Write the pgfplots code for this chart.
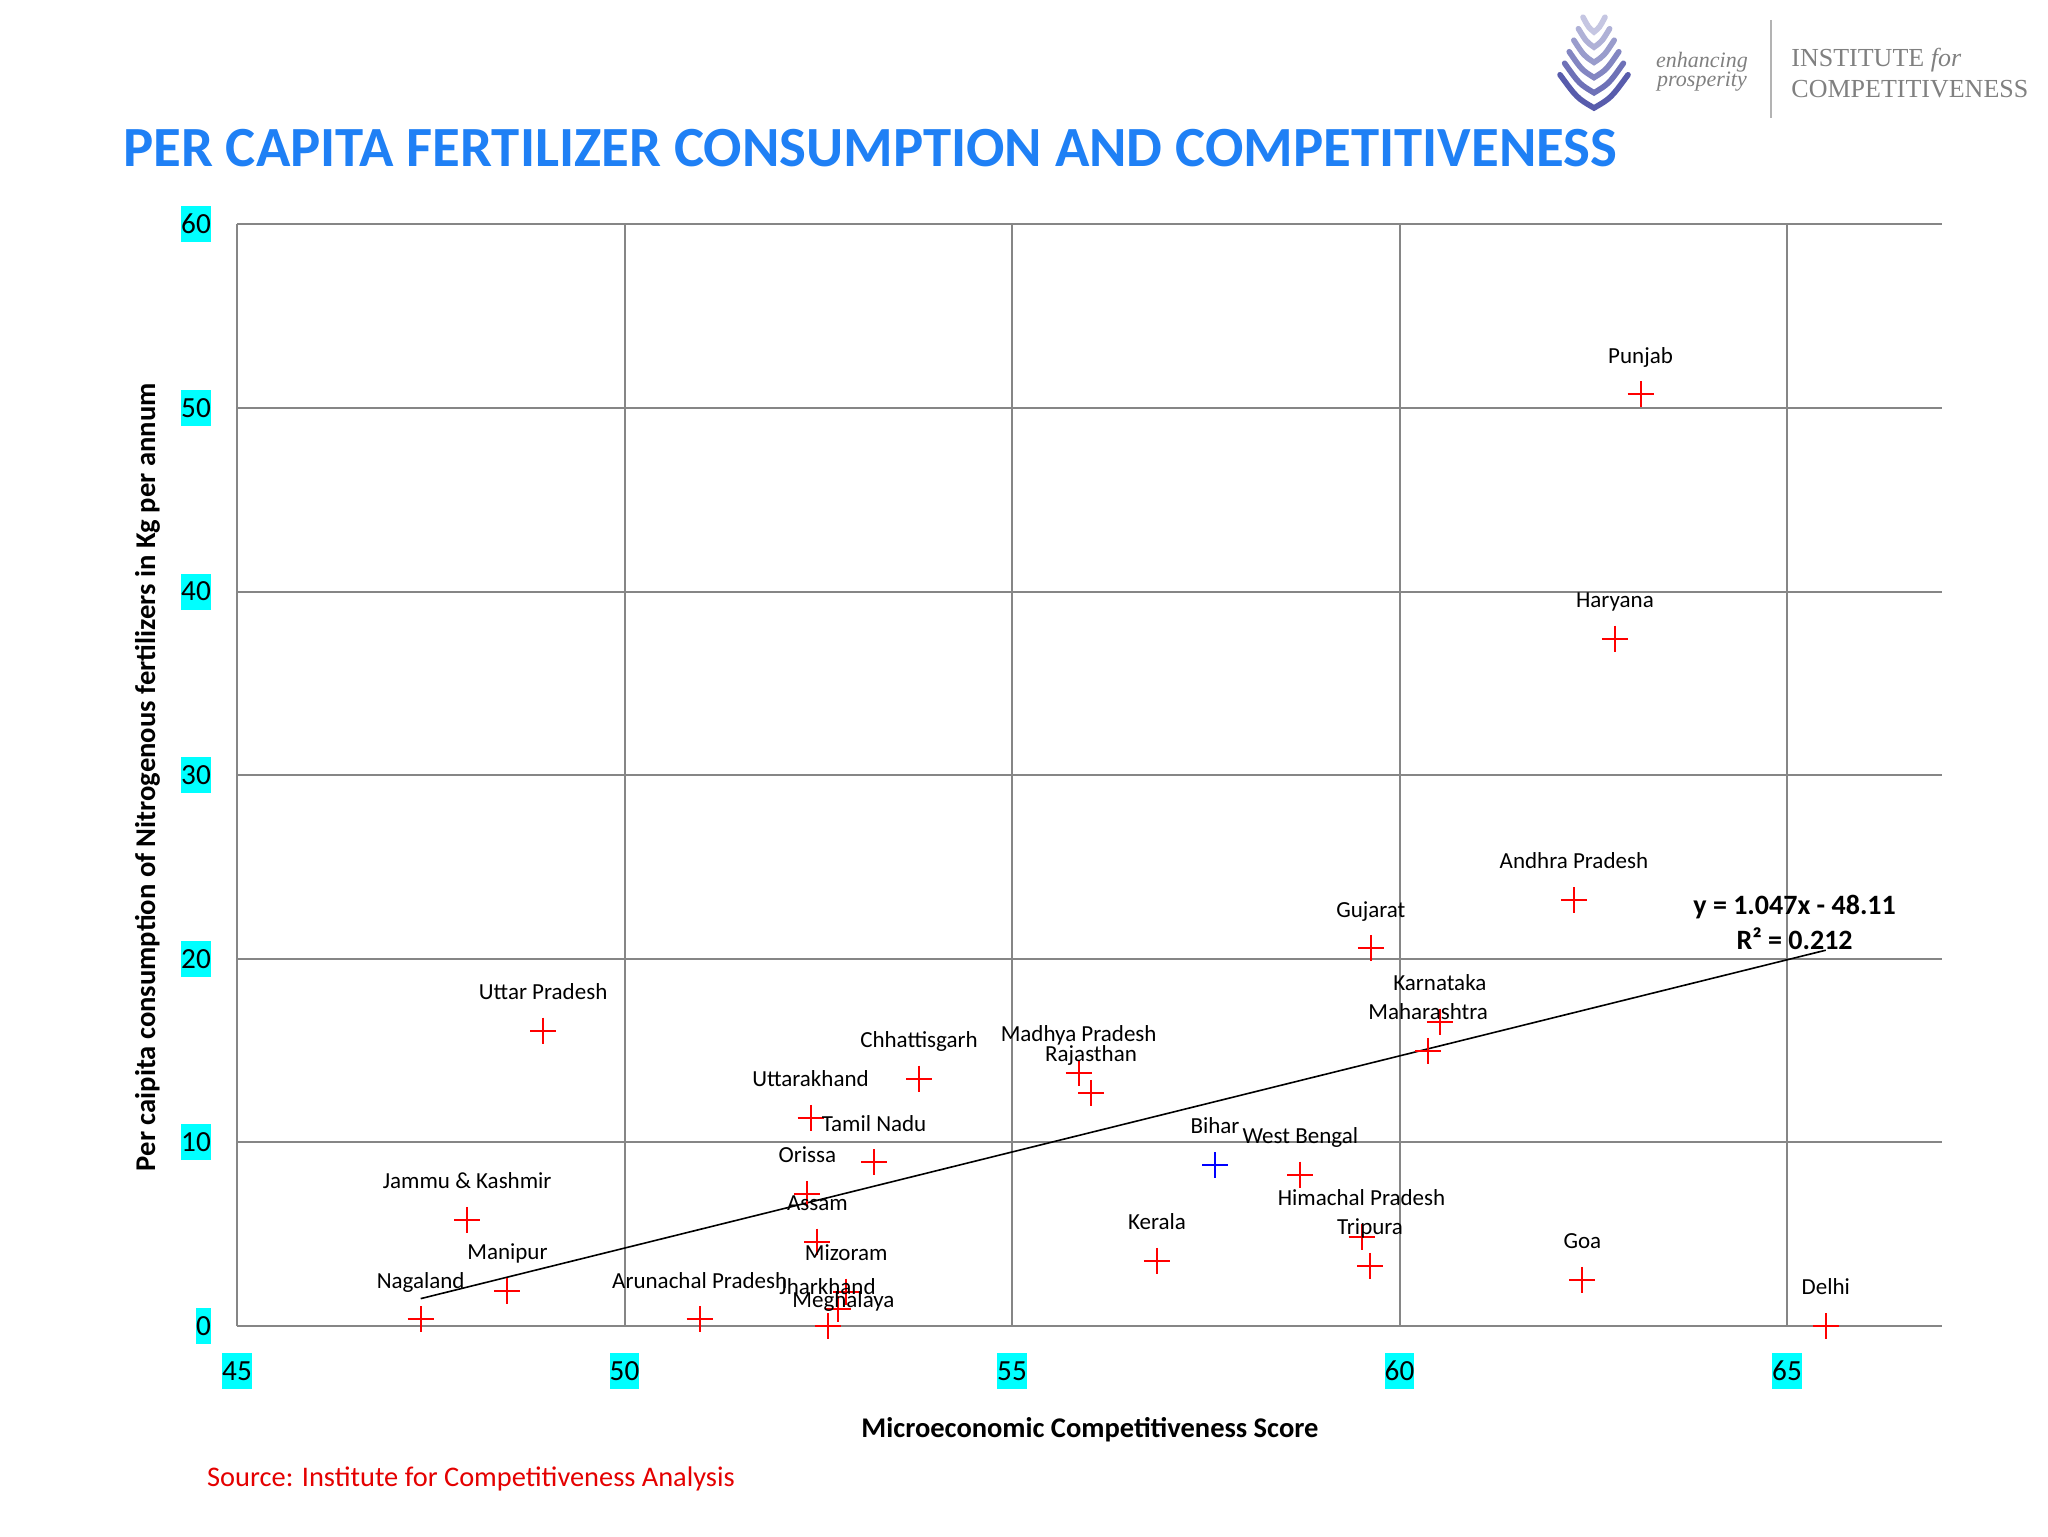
\documentclass[border=0pt]{standalone}
\usepackage{fontspec}
\setmainfont{Carlito}
\newfontfamily\logoserif{Liberation Serif}
\usepackage{pgfplots}
\pgfplotsset{compat=1.18}

\definecolor{titleblue}{RGB}{31,128,245}
\definecolor{gridgray}{RGB}{134,134,134}
\definecolor{tickcyan}{RGB}{0,255,255}
\definecolor{srcred}{RGB}{228,0,0}
\definecolor{logogray}{RGB}{128,128,128}
\definecolor{leaf}{RGB}{88,92,172}

\begin{document}
\begin{tikzpicture}
\path[use as bounding box] (0pt,0pt) rectangle (1024pt,768pt);

% logo
\foreach \i in {0,...,5}{
  \pgfmathsetmacro\vy{752-7.6*\i}
  \pgfmathsetmacro\w{5.5+2.3*\i}
  \pgfmathsetmacro\h{3+0.8*\w}
  \pgfmathsetmacro\shade{35+13*\i}
  \draw[leaf!\shade, line width=2.8pt, line cap=round]
    (797pt-\w pt,\vy pt+\h pt) .. controls (797pt-0.5*\w pt,\vy pt+0.3*\h pt) .. (797pt,\vy pt)
    .. controls (797pt+0.5*\w pt,\vy pt+0.3*\h pt) .. (797pt+\w pt,\vy pt+\h pt);
}
\node[font=\logoserif\itshape\fontsize{11}{11}\selectfont, text=logogray, inner sep=0pt] at (851pt,737pt) {enhancing};
\node[font=\logoserif\itshape\fontsize{11}{11}\selectfont, text=logogray, inner sep=0pt] at (851pt,727pt) {prosperity};
\draw[logogray!60, line width=0.6pt] (885.5pt,758pt) -- (885.5pt,709pt);
\node[anchor=west, font=\logoserif\fontsize{13}{13}\selectfont, text=logogray, inner sep=0pt] at (895.5pt,738pt) {INSTITUTE \textit{for}};
\node[anchor=west, font=\logoserif\fontsize{13}{13}\selectfont, text=logogray, inner sep=0pt] at (895.5pt,723.5pt) {COMPETITIVENESS};

% title
\node[anchor=base west, inner sep=0pt, text=titleblue, font=\fontsize{28.4}{28.4}\selectfont\bfseries] at (61.4pt,684.6pt) {PER CAPITA FERTILIZER CONSUMPTION AND COMPETITIVENESS};

\begin{axis}[
  at={(118.5pt,105pt)}, anchor=south west,
  scale only axis, width=852.5pt, height=550.75pt,
  xmin=45, xmax=67, ymin=0, ymax=60,
  xtick={45,50,55,60,65}, ytick={0,10,20,30,40,50,60},
  grid=major, major grid style={gridgray, line width=1pt},
  axis line style={draw=none},
  major tick length=0pt,
  /pgf/number format/assume math mode=true,
  tick label style={font=\fontsize{14.6}{14.6}\selectfont, fill=tickcyan, inner xsep=0pt, inner ysep=4.4pt, text height=9.2pt, text depth=0pt},
  xticklabel style={anchor=north, yshift=-13.5pt},
  yticklabel style={anchor=east, xshift=-12.9pt},
  clip=false,
]
% linear trend
\addplot[black, line width=0.8pt] coordinates {(47.37,1.49) (65.50,20.47)};

\addplot[only marks, mark=+, mark size=6.5pt, red, line width=1pt,
  point meta=explicit symbolic, nodes near coords,
  nodes near coords align={anchor=base, yshift=15.6pt},
  every node near coord/.append style={font=\fontsize{11.5}{11.5}\selectfont, text=black, inner sep=0pt}]
coordinates {
  (63.11,50.75) [Punjab]
  (62.78,37.44) [Haryana]
  (62.25,23.20) [Andhra Pradesh]
  (59.63,20.57) [Gujarat]
  (60.52,16.58) [Karnataka]
  (60.37,14.98) [Maharashtra]
  (48.95,16.09) [Uttar Pradesh]
  (53.80,13.47) [Chhattisgarh]
  (55.86,13.79) [Madhya Pradesh]
  (56.02,12.70) [Rajasthan]
  (52.40,11.34) [Uttarakhand]
  (53.22,8.92) [Tamil Nadu]
  (52.36,7.20) [Orissa]
  (52.49,4.60) [Assam]
  (52.86,1.87) [Mizoram]
  (52.62,0.00) [Jharkhand]
  (47.97,5.78) [Jammu \& Kashmir]
  (48.49,1.91) [Manipur]
  (47.37,0.36) [Nagaland]
  (50.97,0.36) [Arunachal Pradesh]
  (58.72,8.24) [West Bengal]
  (56.87,3.55) [Kerala]
  (59.51,4.85) [Himachal Pradesh]
  (59.62,3.27) [Tripura]
  (62.36,2.51) [Goa]
  (65.50,0.00) [Delhi]
};

\addplot[only marks, mark=+, mark size=6.5pt, red, line width=1pt,
  point meta=explicit symbolic, nodes near coords,
  nodes near coords align={anchor=base, xshift=2.9pt, yshift=1pt},
  every node near coord/.append style={font=\fontsize{11.5}{11.5}\selectfont, text=black, inner sep=0pt}]
coordinates {(52.75,0.91) [Meghalaya]};

\addplot[only marks, mark=+, mark size=6.5pt, blue, line width=1pt,
  point meta=explicit symbolic, nodes near coords,
  nodes near coords align={anchor=base, yshift=15.6pt},
  every node near coord/.append style={font=\fontsize{11.5}{11.5}\selectfont, text=black, inner sep=0pt}]
coordinates {(57.62,8.76) [Bihar]};
\end{axis}

% regression equation
\node[anchor=base, inner sep=0pt, font=\fontsize{14}{14}\selectfont\bfseries] at (897.3pt,310.5pt) {y = 1.047x - 48.11};
\node[anchor=base, inner sep=0pt, font=\fontsize{14}{14}\selectfont\bfseries] at (897.3pt,293pt) {R² = 0.212};

% axis titles and source
\node[anchor=base, inner sep=0pt, font=\fontsize{14.25}{14.25}\selectfont\bfseries] at (545pt,49.5pt) {Microeconomic Competitiveness Score};
\node[anchor=base, rotate=90, inner sep=0pt, font=\fontsize{14.3}{14.3}\selectfont\bfseries] at (77.6pt,379.4pt) {Per caipita consumption of Nitrogenous fertilizers in Kg per annum};
\node[anchor=base west, inner sep=0pt, text=srcred, font=\fontsize{14.2}{14.2}\selectfont] at (103.4pt,24.8pt) {Source: Institute for Competitiveness Analysis};
\end{tikzpicture}
\end{document}
